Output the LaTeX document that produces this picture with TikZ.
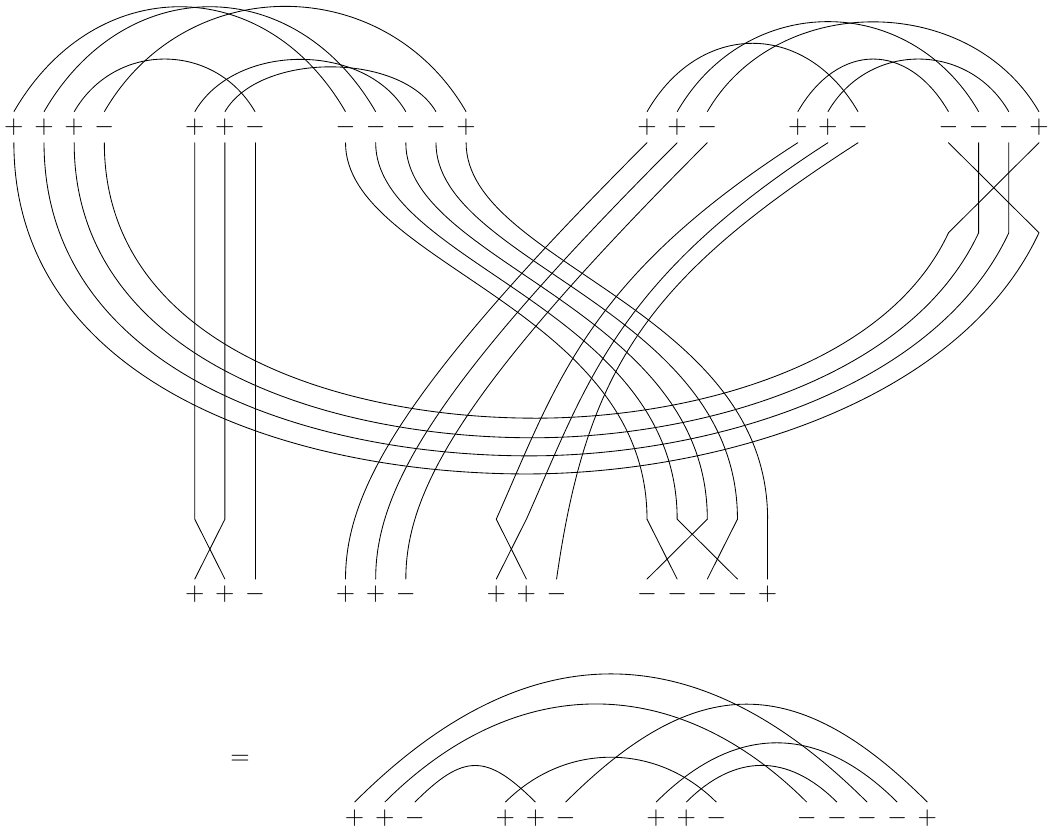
\documentclass[tikz,border=0pt]{standalone}
\usepackage{amsmath}
\usetikzlibrary{calc}

\begin{document}
\begin{tikzpicture}[x=0.5cm, y=0.5cm,
  sgn/.style={inner sep=0pt, minimum size=0.5cm, font=\fontsize{12.5}{15}\selectfont},
  strand/.style={thin, line cap=round},
  hump/.style={strand, out=60, in=120, looseness=#1},
  lowhump/.style={strand, out=45, in=135, looseness=#1},
]
  \useasboundingbox (-0.46,4.22) rectangle (34.3,-23.31);

  \foreach \i/\s in {0/+,1/+,2/+,3/-,6/+,7/+,8/-,11/-,12/-,13/-,14/-,15/+,
                     21/+,22/+,23/-,26/+,27/+,28/-,31/-,32/-,33/-,34/+}
    \node[sgn] (t\i) at (\i,0) {$\s$};
  \foreach \i/\s in {6/+,7/+,8/-,11/+,12/+,13/-,16/+,17/+,18/-,21/-,22/-,23/-,24/-,25/+}
    \node[sgn] (b\i) at (\i,-15.5) {$\s$};
  \foreach \i/\s in {11/+,12/+,13/-,16/+,17/+,18/-,21/+,22/+,23/-,26/-,27/-,28/-,29/-,30/+}
    \node[sgn] (f\i) at (\i+0.3,-22.9) {$\s$};
  \node[sgn] (eq) at (7.5,-21) {$=$};

  \foreach \i in {6,7,16,17,21,22,23,24,25}
    \coordinate (k\i) at (\i,-13);
  \foreach \i in {31,32,33,34}
    \coordinate (r\i) at (\i,-3.5);
  \coordinate (w0) at (17.0,-11.5);
  \coordinate (w1) at (17.1,-10.9);
  \coordinate (w2) at (17.2,-10.3);
  \coordinate (w3) at (17.3,-9.65);

  \draw (t0.north) to[hump=1.25] (t11.north);
  \draw (t1.north) to[hump=1.25] (t12.north);
  \draw (t2.north) to[hump=1.15] (t8.north);
  \draw (t3.north) to[hump=1.15] (t15.north);
  \draw (t6.north) to[hump=0.98] (t13.north);
  \draw (t7.north) to[hump=0.84] (t14.north);
  \draw (t21.north) to[hump=1.28] (t28.north);
  \draw (t22.north) to[hump=1.18] (t32.north);
  \draw (t23.north) to[hump=1.07] (t34.north);
  \draw (t26.north) to[hump=1.38] (t31.north);
  \draw (t27.north) to[hump=1.15] (t33.north);

  \draw[strand] (t0.south) to[out=-90,in=180] (w0) to[out=0,in=-115,looseness=0.85] (r34) -- (t31.south);
  \draw[strand] (t1.south) to[out=-90,in=180] (w1) to[out=0,in=-115,looseness=0.85] (r33) -- (t33.south);
  \draw[strand] (t2.south) to[out=-90,in=180] (w2) to[out=0,in=-115,looseness=0.85] (r32) -- (t32.south);
  \draw[strand] (t3.south) to[out=-90,in=180] (w3) to[out=0,in=-115,looseness=0.85] (r31) -- (t34.south);

  \draw[strand] (t6.south) -- (k6) -- (b7.north);
  \draw[strand] (t7.south) -- (k7) -- (b6.north);
  \draw[strand] (t8.south) -- (b8.north);

  \foreach \a/\b in {11/21,12/22,13/23,14/24,15/25}
    \draw[strand] (t\a.south) .. controls +(0,-4) and +(0,7) .. (k\b);
  \draw[strand] (k21) -- (b22.north);
  \draw[strand] (k22) -- (b24.north);
  \draw[strand] (k23) -- (b21.north);
  \draw[strand] (k24) -- (b23.north);
  \draw[strand] (k25) -- (b25.north);

  \foreach \a/\b in {21/11,22/12,23/13}
    \draw[strand] (t\a.south) .. controls +(-8,-8) and +(0,3) .. (b\b.north);

  \draw[strand] (t26.south) .. controls +(-7,-4.5) and +(2,4.5) .. (k16) -- (b17.north);
  \draw[strand] (t27.south) .. controls +(-7,-4.5) and +(2,4.5) .. (k17) -- (b16.north);
  \draw[strand] (t28.south) .. controls +(-7,-4.5) and +(1,7) .. (b18.north);

  \draw (f11.north) to[lowhump=1.21] (f28.north);
  \draw (f12.north) to[lowhump=1.125] (f26.north);
  \draw (f13.north) to[lowhump=1.47] (f17.north);
  \draw (f16.north) to[lowhump=1.03] (f23.north);
  \draw (f18.north) to[lowhump=1.31] (f30.north);
  \draw (f21.north) to[lowhump=1.19] (f29.north);
  \draw (f22.north) to[lowhump=1.18] (f27.north);
\end{tikzpicture}
\end{document}
